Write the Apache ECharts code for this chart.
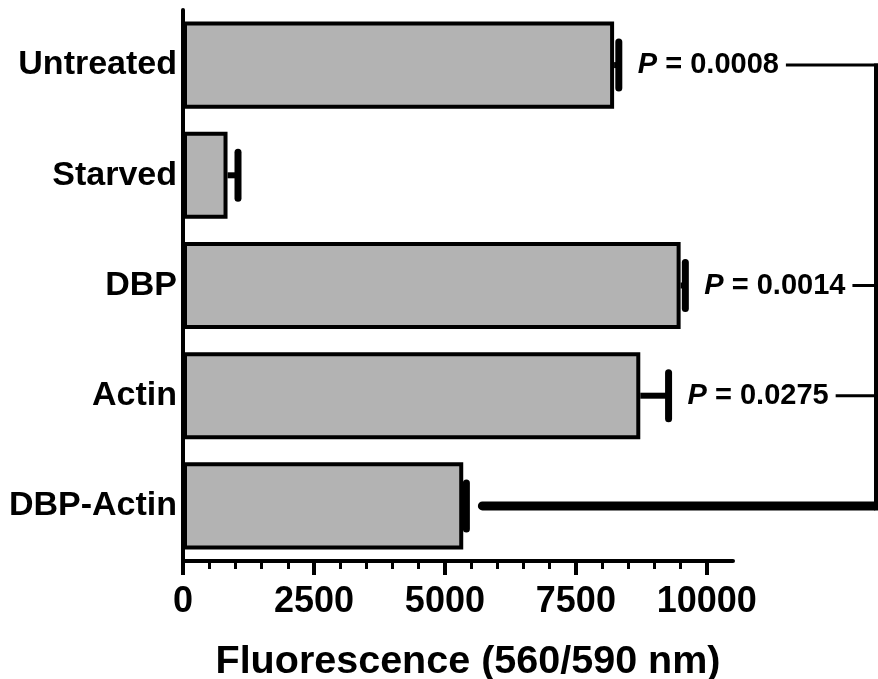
<!DOCTYPE html>
<html>
<head>
<meta charset="utf-8">
<script src="https://cdn.jsdelivr.net/npm/echarts@6/dist/echarts.min.js"></script>
<style>
  html, body { margin: 0; padding: 0; background: #fff; }
  #chart { width: 878px; height: 679px; }
</style>
</head>
<body>
<div id="chart"></div>
<script>
// ---- data ----
const categories = ['Untreated', 'Starved', 'DBP', 'Actin', 'DBP-Actin'];
const means = [8230, 850, 9500, 8730, 5350];
const sds = [90, 200, 90, 540, 60];
// P values of each group compared with DBP-Actin
const pValues = ['0.0008', null, '0.0014', '0.0275', null];
const referenceCategory = 'DBP-Actin';
const majorTicks = [0, 2500, 5000, 7500, 10000];
const minorTicks = [500, 1000, 1500, 2000, 3000, 3500, 4000, 4500, 5500, 6000, 6500, 7000, 8000, 8500, 9000, 9500];
const axisTitle = 'Fluorescence (560/590 nm)';

// ---- layout constants ----
const FONT = '"Liberation Sans", Arial, Helvetica, sans-serif';
const BRACKET_VALUE = 13230; // data-space x of the bracket's vertical line
const P_SIZE = 29;

const mctx = document.createElement('canvas').getContext('2d');
function textWidth(t, italic, size) {
  mctx.font = (italic ? 'italic ' : '') + 'bold ' + size + 'px ' + FONT;
  return mctx.measureText(t).width;
}

const refIndex = categories.indexOf(referenceCategory);
const compIndices = pValues.map((p, i) => p ? i : -1).filter(i => i >= 0);
const firstComp = Math.min.apply(null, compIndices);

const chart = echarts.init(document.getElementById('chart'), null, { renderer: 'canvas' });

function renderError(params, api) {
  const i = api.value(1);
  const m = api.value(0);
  const sd = api.value(2);
  const p0 = api.coord([m, i]);
  const p1 = api.coord([m + sd, i]);
  const h = 23;
  return {
    type: 'group',
    children: [
      { type: 'line', shape: { x1: p0[0], y1: p0[1], x2: p1[0], y2: p1[1] },
        style: { stroke: '#000', lineWidth: 6 } },
      { type: 'line', shape: { x1: p1[0], y1: p1[1] - h, x2: p1[0], y2: p1[1] + h },
        style: { stroke: '#000', lineWidth: 7, lineCap: 'round' } }
    ]
  };
}

function renderAnno(params, api) {
  const i = api.value(0);
  const end = means[i] + sds[i];
  const pe = api.coord([end, i]);
  const y = pe[1];
  const bx = api.coord([BRACKET_VALUE, i])[0];
  const children = [];
  if (i === refIndex) {
    const top = api.coord([0, firstComp])[1];
    children.push({ type: 'line', shape: { x1: pe[0] + 16, y1: y, x2: bx - 2, y2: y },
      style: { stroke: '#000', lineWidth: 9, lineCap: 'round' } });
    children.push({ type: 'line', shape: { x1: bx, y1: top - 1.5, x2: bx, y2: y + 4.5 },
      style: { stroke: '#000', lineWidth: 4 } });
  } else {
    const x0 = pe[0] + 19;
    const wP = textWidth('P', true, P_SIZE);
    const rest = ' = ' + pValues[i];
    const wR = textWidth(rest, false, P_SIZE);
    children.push({ type: 'text', style: { text: 'P', x: x0, y: y, fill: '#000',
      fontStyle: 'italic', fontWeight: 'bold', fontSize: P_SIZE, fontFamily: FONT,
      align: 'left', verticalAlign: 'middle' } });
    children.push({ type: 'text', style: { text: rest, x: x0 + wP, y: y, fill: '#000',
      fontWeight: 'bold', fontSize: P_SIZE, fontFamily: FONT,
      align: 'left', verticalAlign: 'middle' } });
    children.push({ type: 'line', shape: { x1: x0 + wP + wR + 7, y1: y, x2: bx + 2, y2: y },
      style: { stroke: '#000', lineWidth: 3 } });
  }
  return { type: 'group', children: children };
}

const option = {
  animation: false,
  backgroundColor: '#fff',
  grid: { left: 183, right: 145, top: 10, bottom: 118, containLabel: false, outerBoundsMode: 'none' },
  xAxis: [
    {
      type: 'value', min: 0, max: 10500, interval: 2500, position: 'bottom',
      axisLine: { show: true, onZero: false, lineStyle: { color: '#000', width: 4 } },
      axisTick: { show: true, length: 14, customValues: majorTicks, lineStyle: { color: '#000', width: 4 } },
      axisLabel: { customValues: majorTicks, fontSize: 36, fontWeight: 'bold', color: '#000',
        fontFamily: FONT, margin: 23, formatter: v => String(v) },
      splitLine: { show: false },
      name: axisTitle, nameLocation: 'middle', nameGap: 81,
      nameTextStyle: { fontSize: 39.5, fontWeight: 'bold', color: '#000', fontFamily: FONT,
        padding: [0, 0, 0, 20] }
    },
    {
      type: 'value', min: 0, max: 10500, position: 'bottom',
      axisLine: { show: false },
      axisTick: { show: true, length: 8, customValues: minorTicks, lineStyle: { color: '#000', width: 3 } },
      axisLabel: { show: false },
      splitLine: { show: false }
    }
  ],
  yAxis: {
    type: 'category', data: categories, inverse: true,
    axisLine: { show: true, lineStyle: { color: '#000', width: 4 } },
    axisTick: { show: false },
    axisLabel: { fontSize: 34, fontWeight: 'bold', color: '#000', fontFamily: FONT, margin: 6 }
  },
  series: [
    {
      type: 'bar', xAxisIndex: 0, data: means, barCategoryGap: '21%',
      itemStyle: { color: '#b3b3b3', borderColor: '#000', borderWidth: 4 },
      z: 2
    },
    {
      type: 'custom', xAxisIndex: 0, renderItem: renderError, clip: false,
      encode: { x: 0, y: 1 },
      data: categories.map((c, i) => [means[i], i, sds[i]]),
      z: 3
    },
    {
      type: 'custom', xAxisIndex: 0, renderItem: renderAnno, clip: false,
      encode: { y: 0 },
      data: compIndices.concat([refIndex]).map(i => [i]),
      z: 4
    }
  ]
};
chart.setOption(option);
</script>
</body>
</html>
